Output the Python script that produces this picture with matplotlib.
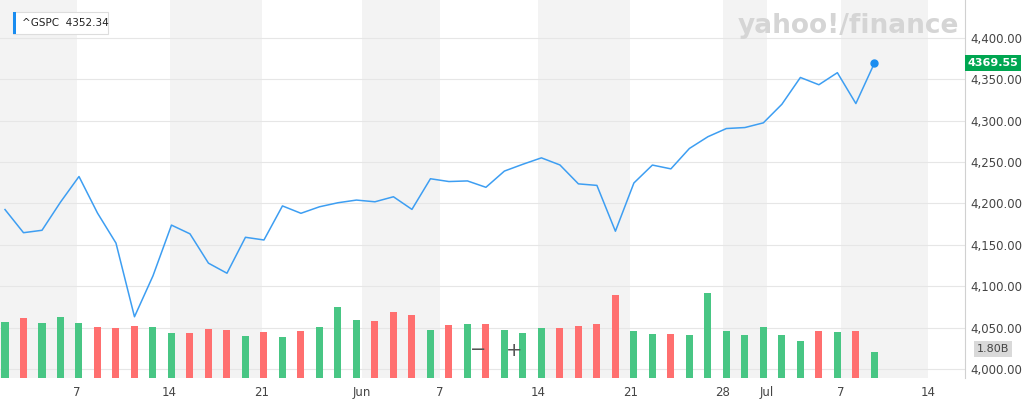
import matplotlib
matplotlib.use("Agg")
import matplotlib.pyplot as plt
from matplotlib.patches import Rectangle

closes = [4192.66,4164.66,4167.59,4201.62,4232.60,4188.43,4152.10,4063.04,4112.50,4173.85,
          4163.29,4127.83,4115.68,4159.12,4155.86,4197.05,4188.13,4195.99,4200.88,4204.11,
          4202.04,4208.12,4192.85,4229.89,4226.52,4227.26,4219.55,4239.18,4247.44,4255.15,
          4246.59,4223.70,4221.86,4166.45,4224.79,4246.44,4241.84,4266.49,4280.70,4290.61,
          4291.80,4297.50,4319.94,4352.34,4343.54,4358.13,4320.82,4369.55]
bar_tops_px = [322,318,323,317,323,327,328,326,327,333,333,329,330,336,332,337,331,327,307,320,
               321,312,315,330,325,324,324,330,333,328,328,326,324,295,331,334,334,335,293,331,
               335,327,335,341,331,332,331,352]
volumes = [round((369 - t) / 9.4, 2) for t in bar_tops_px]
vol_up = [1,0,1,1,1,0,0,0,1,1,0,0,0,1,0,1,0,1,1,1,0,0,0,1,0,1,0,1,1,1,0,0,0,0,1,1,0,1,1,1,1,1,1,1,0,1,0,1]
tick_pos = [3.9,8.9,13.9,19.3,23.5,28.8,33.8,38.8,41.2,45.2,49.9]
tick_labels = ["7","14","21","Jun","7","14","21","28","Jul","7","14"]
yticks = [4000,4050,4100,4150,4200,4250,4300,4350,4400]

fig = plt.figure(figsize=(10.24,4.04), dpi=100)
ax = fig.add_axes([0, 1-378/404, 965/1024, 378/404])
xmin, xmax = -0.27, 51.9
ymin, ymax = 3989, 4446
ax.set_xlim(xmin, xmax); ax.set_ylim(ymin, ymax)

shade = [(xmin,3.9),(8.9,13.9),(19.3,23.5),(28.8,33.8),(38.8,41.2),(45.2,49.9)]
for a,b in shade:
    ax.axvspan(a, b, color="#f3f3f3", zorder=0, lw=0)
for y in yticks:
    ax.axhline(y, color="#e6e6e6", lw=0.8, zorder=1)

# volume bars scaled into price units (9.4 px per billion, 0.8275 px per point)
scale = 9.4 / 0.8275
idx = list(range(len(closes)))
base = 4000
heights = [v * scale + (base - ymin) for v in volumes]
ax.bar(idx, heights, bottom=ymin, width=0.38,
       color=["#48c684" if u else "#ff6f6f" for u in vol_up], zorder=2)

ax.plot(idx, closes, color="#3d9ef2", lw=1.1, zorder=3)
ax.plot(idx[-1], closes[-1], "o", color="#1a8df0", ms=5, zorder=4)

ax.yaxis.tick_right()
ax.set_yticks(yticks)
ax.set_yticklabels([f"{v:,.2f}" for v in yticks], fontsize=8.5, color="#444")
ax.set_xticks(tick_pos)
ax.set_xticklabels(tick_labels, fontsize=8.5, color="#444")
ax.tick_params(length=0, pad=6)
ax.tick_params(axis="y", pad=4)
for n,s in ax.spines.items():
    s.set_visible(n=="right")
ax.spines["right"].set_color("#d0d0d0")

fig.text(0.72, 0.935, "yahoo!/finance", fontsize=19, color="#d5d5d5", weight="bold", va="center")
fig.patches.append(Rectangle((13/1024, 1-34/404), 95/1024, 22/404, transform=fig.transFigure,
                             fc="white", ec="#dddddd", lw=0.8))
fig.patches.append(Rectangle((13/1024, 1-34/404), 3/1024, 22/404, transform=fig.transFigure, fc="#1a8df0", lw=0))
fig.text(22/1024, 1-23/404, "^GSPC  4352.34", fontsize=7.5, color="#222", va="center")
fig.text(993/1024, 1-63/404, "4369.55", fontsize=8, color="white", weight="bold", va="center", ha="center",
         bbox=dict(boxstyle="square,pad=0.25", fc="#00a651", ec="none"))
fig.text(993/1024, 1-349/404, "1.80B", fontsize=8, color="#444", va="center", ha="center",
         bbox=dict(boxstyle="square,pad=0.25", fc="#d9d9d9", ec="none"))
fig.text(478/1024, 1-350/404, "−", fontsize=14, color="#555", va="center", ha="center")
fig.text(514/1024, 1-350/404, "+", fontsize=14, color="#555", va="center", ha="center")

fig.savefig("out.png", dpi=100)
